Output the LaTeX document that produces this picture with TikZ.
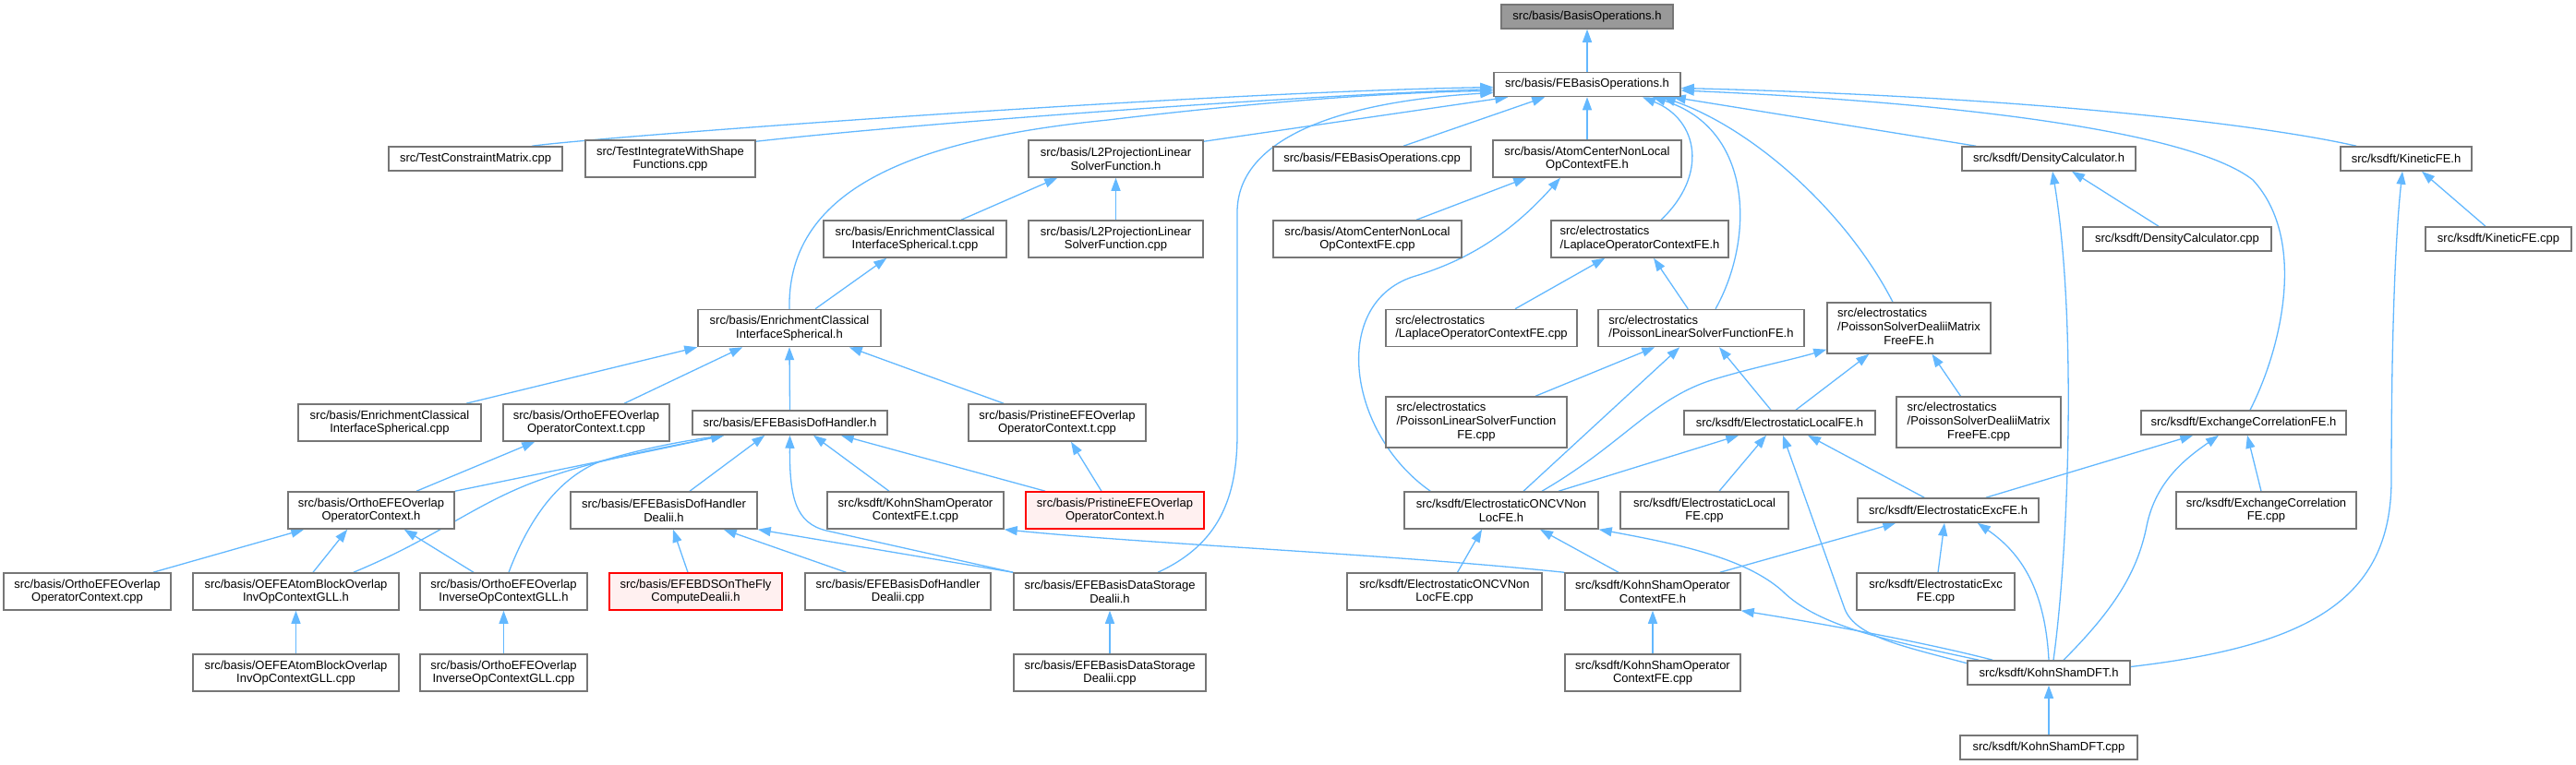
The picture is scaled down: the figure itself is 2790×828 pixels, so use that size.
\documentclass[tikz,border=0pt]{standalone}
\usepackage{fontspec}
\setmainfont{Liberation Sans}
\usetikzlibrary{arrows.meta}
\definecolor{edgeblue}{RGB}{99,184,255}
\definecolor{bordergray}{RGB}{118,118,118}
\definecolor{rootfill}{RGB}{153,153,153}
\definecolor{redfill}{RGB}{255,240,240}
\newcommand{\fsz}{\fontsize{13}{14.7}\selectfont}
\newcommand{\lft}[1]{\begin{tabular}{@{}l@{}}#1\end{tabular}}
\pgfdeclarelayer{background}
\pgfsetlayers{background,main}
\begin{document}
\begin{tikzpicture}[x=1pt,y=-1pt,
  box/.style={draw=bordergray, line width=1.5pt, fill=white, inner xsep=2pt, inner ysep=0pt, font=\fsz, align=center, text=black},
  one/.style={box, minimum height=26pt},
  two/.style={box, minimum height=40pt},
  three/.style={box, minimum height=55pt},
  root/.style={fill=rootfill},
  missing/.style={draw=red, fill=redfill},
  dep/.style={draw=edgeblue, line width=1.3pt, -{Triangle[length=14pt,width=10pt]}},
]
\useasboundingbox (0,0) rectangle (2790,828);
% rank A, B
\node[one,root,minimum width=186pt] (bo) at (1719,18) {src/basis/BasisOperations.h};
\node[one,minimum width=202pt] (febo) at (1719,91.5) {src/basis/FEBasisOperations.h};
% rank C
\node[one,minimum width=188pt] (tcm) at (515,172) {src/TestConstraintMatrix.cpp};
\node[two,minimum width=184pt] (tiw) at (726,172) {src/TestIntegrateWithShape\\Functions.cpp};
\node[two,minimum width=189pt] (l2h) at (1208.5,172) {src/basis/L2ProjectionLinear\\SolverFunction.h};
\node[one,minimum width=214pt] (febocpp) at (1486,172) {src/basis/FEBasisOperations.cpp};
\node[two,minimum width=204pt] (acnh) at (1719,172) {src/basis/AtomCenterNonLocal\\OpContextFE.h};
\node[one,minimum width=188pt] (dch) at (2219,172) {src/ksdft/DensityCalculator.h};
\node[one,minimum width=142pt] (kfeh) at (2606,172) {src/ksdft/KineticFE.h};
% rank D
\node[two,minimum width=198pt] (ecist) at (991,259) {src/basis/EnrichmentClassical\\InterfaceSpherical.t.cpp};
\node[two,minimum width=189pt] (l2cpp) at (1208.5,259) {src/basis/L2ProjectionLinear\\SolverFunction.cpp};
\node[two,minimum width=204pt] (acncpp) at (1481,259) {src/basis/AtomCenterNonLocal\\OpContextFE.cpp};
\node[two,minimum width=192pt] (laph) at (1776,259) {\lft{src/electrostatics\\/LaplaceOperatorContextFE.h}};
\node[one,minimum width=204pt] (dccpp) at (2358,259) {src/ksdft/DensityCalculator.cpp};
\node[one,minimum width=158pt] (kfecpp) at (2706,259) {src/ksdft/KineticFE.cpp};
% rank E
\node[two,minimum width=198pt] (ecish) at (855,355.5) {src/basis/EnrichmentClassical\\InterfaceSpherical.h};
\node[two,minimum width=207pt] (lapcpp) at (1604.5,355.5) {\lft{src/electrostatics\\/LaplaceOperatorContextFE.cpp}};
\node[two,minimum width=223pt] (plsfh) at (1842.5,355.5) {\lft{src/electrostatics\\/PoissonLinearSolverFunctionFE.h}};
\node[three,minimum width=177pt] (psdh) at (2067.5,355.5) {\lft{src/electrostatics\\/PoissonSolverDealiiMatrix\\\multicolumn{1}{@{}c@{}}{FreeFE.h}}};
% rank F
\node[two,minimum width=198pt] (eciscpp) at (422,458) {src/basis/EnrichmentClassical\\InterfaceSpherical.cpp};
\node[two,minimum width=180pt] (oetcpp) at (635,458) {src/basis/OrthoEFEOverlap\\OperatorContext.t.cpp};
\node[one,minimum width=211pt] (efedh) at (855.5,458) {src/basis/EFEBasisDofHandler.h};
\node[two,minimum width=192pt] (petcpp) at (1145,458) {src/basis/PristineEFEOverlap\\OperatorContext.t.cpp};
\node[three,minimum width=196pt] (plsfcpp) at (1599,457.5) {\lft{src/electrostatics\\/PoissonLinearSolverFunction\\\multicolumn{1}{@{}c@{}}{FE.cpp}}};
\node[one,minimum width=207pt] (elh) at (1927.5,458) {src/ksdft/ElectrostaticLocalFE.h};
\node[three,minimum width=178pt] (psdcpp) at (2143,457.5) {\lft{src/electrostatics\\/PoissonSolverDealiiMatrix\\\multicolumn{1}{@{}c@{}}{FreeFE.cpp}}};
\node[one,minimum width=222pt] (xch) at (2430,458) {src/ksdft/ExchangeCorrelationFE.h};
% rank G
\node[two,minimum width=180pt] (oeh) at (402,553) {src/basis/OrthoEFEOverlap\\OperatorContext.h};
\node[two,minimum width=202pt] (efeddh) at (719,553) {src/basis/EFEBasisDofHandler\\Dealii.h};
\node[two,minimum width=191pt] (ksotcpp) at (991.5,553) {src/ksdft/KohnShamOperator\\ContextFE.t.cpp};
\node[two,missing,minimum width=193pt] (peh) at (1207.5,553) {src/basis/PristineEFEOverlap\\OperatorContext.h};
\node[two,minimum width=210pt] (oncvh) at (1626,553) {src/ksdft/ElectrostaticONCVNon\\LocFE.h};
\node[two,minimum width=182pt] (elcpp) at (1846,553) {src/ksdft/ElectrostaticLocal\\FE.cpp};
\node[one,minimum width=196pt] (exch) at (2110,553) {src/ksdft/ElectrostaticExcFE.h};
\node[two,minimum width=195pt] (xccpp) at (2454.5,553) {src/ksdft/ExchangeCorrelation\\FE.cpp};
% rank H
\node[two,minimum width=181pt] (oecpp) at (94.5,641) {src/basis/OrthoEFEOverlap\\OperatorContext.cpp};
\node[two,minimum width=223pt] (oeabh) at (320.5,641) {src/basis/OEFEAtomBlockOverlap\\InvOpContextGLL.h};
\node[two,minimum width=181pt] (oeinvh) at (545.5,641) {src/basis/OrthoEFEOverlap\\InverseOpContextGLL.h};
\node[two,missing,minimum width=187pt] (efbds) at (753.5,641) {src/basis/EFEBDSOnTheFly\\ComputeDealii.h};
\node[two,minimum width=201pt] (efeddcpp) at (972.5,641) {src/basis/EFEBasisDofHandler\\Dealii.cpp};
\node[two,minimum width=208pt] (efedsh) at (1202,641) {src/basis/EFEBasisDataStorage\\Dealii.h};
\node[two,minimum width=211pt] (oncvcpp) at (1564.5,641) {src/ksdft/ElectrostaticONCVNon\\LocFE.cpp};
\node[two,minimum width=190pt] (ksoh) at (1790,641) {src/ksdft/KohnShamOperator\\ContextFE.h};
\node[two,minimum width=171pt] (exccpp) at (2096.5,641) {src/ksdft/ElectrostaticExc\\FE.cpp};
% rank I, J
\node[two,minimum width=223pt] (oeabcpp) at (320.5,729) {src/basis/OEFEAtomBlockOverlap\\InvOpContextGLL.cpp};
\node[two,minimum width=181pt] (oeinvcpp) at (545.5,729) {src/basis/OrthoEFEOverlap\\InverseOpContextGLL.cpp};
\node[two,minimum width=208pt] (efedscpp) at (1202,729) {src/basis/EFEBasisDataStorage\\Dealii.cpp};
\node[two,minimum width=190pt] (ksocpp) at (1790,729) {src/ksdft/KohnShamOperator\\ContextFE.cpp};
\node[one,minimum width=176pt] (ksdfth) at (2219,729) {src/ksdft/KohnShamDFT.h};
\node[one,minimum width=192pt] (ksdftcpp) at (2219,810) {src/ksdft/KohnShamDFT.cpp};

\begin{pgfonlayer}{background}
\draw[dep] (febo.north) -- (bo.south);
\draw[dep] ([xshift=61pt]tcm.north) .. controls (650,148) and (1300,100) .. ([yshift=-3pt]febo.west);
\draw[dep] ([yshift=-2pt]tiw.north east) .. controls (1000,133) and (1400,104) .. ([yshift=-5pt]febo.west);
\draw[dep] (ecish.north) .. controls (852,200) and (1000,150) .. (1200,130) .. controls (1350,112) and (1500,100) .. ([yshift=-7pt]febo.west);
\draw[dep] ([yshift=-2pt]l2h.north east) -- ([xshift=16pt]febo.south west);
\draw[dep] ([xshift=34pt]febocpp.north) -- ([xshift=56pt]febo.south west);
\draw[dep] (acnh.north) -- (febo.south);
\draw[dep] ([xshift=52pt]efedsh.north) .. controls (1320,590) and (1340,540) .. (1340,470) -- (1340,230) .. controls (1340,150) and (1450,110) .. ([yshift=-9pt]febo.west);
\draw[dep] ([xshift=23pt]laph.north) .. controls (1850,190) and (1840,130) .. ([xshift=60pt]febo.south);
\draw[dep] ([xshift=15.5pt]plsfh.north) .. controls (1900,260) and (1900,140) .. ([xshift=71pt]febo.south);
\draw[dep] ([xshift=-17.5pt]psdh.north) .. controls (2000,230) and (1900,140) .. ([xshift=-20pt]febo.south east);
\draw[dep] ([xshift=16pt]dch.north west) -- ([xshift=-9pt]febo.south east);
\draw[dep] ([xshift=7pt]xch.north) .. controls (2470,380) and (2500,260) .. (2440,195) .. controls (2370,140) and (2100,110) .. ([yshift=-6.5pt]febo.east);
\draw[dep] ([xshift=18pt]kfeh.north west) .. controls (2450,135) and (2200,105) .. ([yshift=-4pt]febo.east);
\draw[dep] ([xshift=53pt]acncpp.north) -- ([xshift=37pt]acnh.south west);
\draw[dep] ([xshift=29pt]oncvh.north west) .. controls (1460,470) and (1440,330) .. (1530,300) .. controls (1580,285) and (1630,260) .. ([xshift=-29pt]acnh.south);
\draw[dep] ([xshift=50pt]ecist.north) -- ([xshift=32pt]l2h.south west);
\draw[dep] (l2cpp.north) -- (l2h.south);
\draw[dep] ([xshift=28pt]ecish.north) -- ([xshift=69pt]ecist.south west);
\draw[dep] ([xshift=-17pt]eciscpp.north east) -- (ecish.south west);
\draw[dep] ([xshift=41pt]oetcpp.north) -- ([xshift=49pt]ecish.south west);
\draw[dep] (efedh.north) -- (ecish.south);
\draw[dep] ([xshift=39pt]petcpp.north west) -- ([xshift=-35pt]ecish.south east);
\draw[dep] ([xshift=36.5pt]lapcpp.north) -- ([xshift=59pt]laph.south west);
\draw[dep] ([xshift=98pt]plsfh.north west) -- ([xshift=15pt]laph.south);
\draw[dep] ([xshift=64pt]plsfcpp.north) -- ([xshift=62pt]plsfh.south west);
\draw[dep] ([xshift=24pt]oncvh.north) -- ([xshift=89pt]plsfh.south west);
\draw[dep] ([xshift=-9.5pt]elh.north) -- ([xshift=19.5pt]plsfh.south);
\draw[dep] ([xshift=44pt]oncvh.north) .. controls (1760,480) and (1790,430) .. (1860,410) .. controls (1900,398) and (1940,390) .. ([yshift=5pt]psdh.south west);
\draw[dep] ([xshift=17.5pt]elh.north) -- ([xshift=46pt]psdh.south west);
\draw[dep] ([xshift=-19.5pt]psdcpp.north) -- ([xshift=25pt]psdh.south);
\draw[dep] ([xshift=-20pt]dccpp.north) -- ([xshift=25pt]dch.south);
\draw[dep] ([xshift=5pt]ksdfth.north) .. controls (2240,600) and (2250,350) .. ([xshift=4pt]dch.south);
\draw[dep] ([xshift=-14pt]kfecpp.north) -- ([xshift=17pt]kfeh.south);
\draw[dep] ([yshift=6.5pt]ksdfth.east) .. controls (2500,700) and (2590,650) .. (2590,520) .. controls (2590,350) and (2595,250) .. ([xshift=-4pt]kfeh.south);
\draw[dep] ([xshift=-58pt]exch.north east) -- ([xshift=57pt]xch.south west);
\draw[dep] ([xshift=16pt]ksdfth.north) .. controls (2290,660) and (2315,620) .. (2325,570) .. controls (2335,520) and (2370,495) .. ([xshift=-27pt]xch.south);
\draw[dep] ([xshift=-5.5pt]xccpp.north) -- ([xshift=4pt]xch.south);
\draw[dep] ([xshift=62pt]oncvh.north) -- ([xshift=60pt]elh.south west);
\draw[dep] ([xshift=16pt]elcpp.north) -- ([xshift=-14.5pt]elh.south);
\draw[dep] ([yshift=-3.5pt]ksdfth.north west) .. controls (2060,700) and (2010,690) .. (1998,660) -- ([xshift=3.5pt]elh.south);
\draw[dep] ([xshift=73pt]exch.north west) -- ([xshift=30.5pt]elh.south);
\draw[dep] ([xshift=14pt]oncvcpp.north) -- ([xshift=-21pt]oncvh.south);
\draw[dep] ([xshift=-37pt]ksoh.north) -- ([xshift=42pt]oncvh.south);
\draw[dep] ([xshift=13pt]ksdfth.north west) .. controls (2050,695) and (1970,680) .. (1930,640) .. controls (1890,605) and (1820,590) .. (oncvh.south east);
\draw[dep] ([xshift=-23pt]ksoh.north east) -- ([xshift=42pt]exch.south west);
\draw[dep] ([xshift=2.5pt]exccpp.north) -- ([xshift=-4pt]exch.south);
\draw[dep] (ksdfth.north) .. controls (2215,640) and (2190,600) .. ([xshift=-67pt]exch.south east);
\draw[dep] (ksocpp.north) -- (ksoh.south);
\draw[dep] ([xshift=28pt]ksdfth.north west) .. controls (2100,700) and (2000,680) .. (ksoh.south east);
\draw[dep] (ksoh.north west) .. controls (1500,600) and (1250,590) .. (ksotcpp.south east);
\draw[dep] (oeh.north east) .. controls (600,510) and (700,490) .. ([xshift=35pt]efedh.south west);
\draw[dep] ([xshift=-50pt]oeabh.north east) .. controls (480,580) and (520,540) .. (600,515) .. controls (660,495) and (720,485) .. ([xshift=35pt]efedh.south west);
\draw[dep] ([xshift=5.5pt]oeinvh.north) .. controls (570,570) and (600,520) .. (650,500) .. controls (700,485) and (740,478) .. ([xshift=35pt]efedh.south west);
\draw[dep] ([xshift=28pt]efeddh.north) -- ([xshift=79pt]efedh.south west);
\draw[dep] (efedsh.north west) -- (895,575) .. controls (862,567) and (855,540) .. (efedh.south);
\draw[dep] ([xshift=-28.5pt]ksotcpp.north) -- ([xshift=25.5pt]efedh.south);
\draw[dep] ([xshift=22pt]peh.north west) -- ([xshift=-51pt]efedh.south east);
\draw[dep] ([xshift=-14.5pt]peh.north) -- ([xshift=15pt]petcpp.south);
\draw[dep] ([xshift=49pt]oeh.north) -- ([xshift=35pt]oetcpp.south west);
\draw[dep] ([xshift=-20pt]oecpp.north east) -- ([xshift=18pt]oeh.south west);
\draw[dep] ([xshift=18.5pt]oeabh.north) -- ([xshift=65pt]oeh.south west);
\draw[dep] ([xshift=-32.5pt]oeinvh.north) -- ([xshift=-55pt]oeh.south east);
\draw[dep] (oeabcpp.north) -- (oeabh.south);
\draw[dep] (oeinvcpp.north) -- (oeinvh.south);
\draw[dep] ([xshift=-8.5pt]efbds.north) -- ([xshift=10pt]efeddh.south);
\draw[dep] ([xshift=-56pt]efeddcpp.north) -- ([xshift=-37pt]efeddh.south east);
\draw[dep] (efedsh.north west) -- (efeddh.south east);
\draw[dep] (efedscpp.north) -- (efedsh.south);
\draw[dep] (ksdftcpp.north) -- (ksdfth.south);
\end{pgfonlayer}
\end{tikzpicture}
\end{document}
